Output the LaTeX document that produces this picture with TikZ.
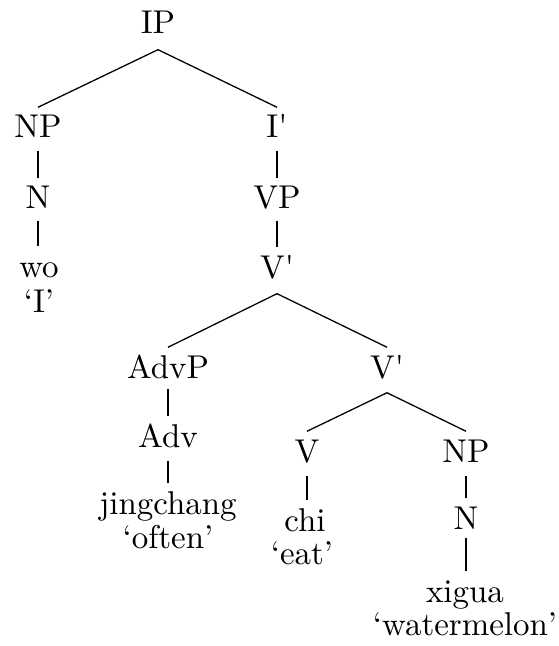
\documentclass[tikz,border=0pt]{standalone}
\begin{document}
\begin{tikzpicture}[x=0.3125pt,y=-0.3125pt,
  cat/.style={anchor=base, inner sep=0pt, text height=9.4pt, text depth=3.75pt, font=\fontsize{10.3}{12}\selectfont},
  gloss/.style={anchor=base, inner sep=0pt, font=\fontsize{10.3}{12}\selectfont},
  edge/.style={line width=0.4pt}]
\useasboundingbox (0,0) rectangle (559,646);
% nodes
\node[cat, text depth=4.7pt] (IP) at (158,34) {IP};
\node[cat] (NP) at (38,138) {NP};
\node[cat] (Ib) at (277,138) {I\textquotesingle};
\node[cat, text depth=3.45pt] (N) at (38,209) {N};
\node[cat, text depth=3.45pt] (VP) at (277,209) {VP};
\node[cat] (wo) at (39,277) {wo};
\node[gloss] (woG) at (39,312) {‘I’};
\node[cat, text depth=4.7pt] (Vb) at (277,278) {V\textquotesingle};
\node[cat, text depth=3.1pt] (AdvP) at (168,378) {AdvP};
\node[cat, text depth=4.4pt] (Vb2) at (387,378) {V\textquotesingle};
\node[cat, text depth=4.1pt] (Adv) at (168,447) {Adv};
\node[cat] (jc) at (168,514) {jingchang};
\node[gloss] (jcG) at (168,548) {‘often’};
\node[cat, text depth=4.1pt] (V) at (307,462) {V};
\node[cat, text depth=4.1pt] (NP2) at (466,462) {NP};
\node[cat] (chi) at (305,531) {chi};
\node[gloss] (chiG) at (302,564) {‘eat’};
\node[cat, text depth=2.5pt] (N2) at (466,529) {N};
\node[cat] (xg) at (465,602) {xigua};
\node[gloss] (xgG) at (465,635) {‘watermelon’};
% edges
\draw[edge] (IP.south) -- (NP.north);
\draw[edge] (IP.south) -- (Ib.north);
\draw[edge] (NP.south) -- (NP.south |- N.north);
\draw[edge] (N.south) -- (N.south |- wo.north);
\draw[edge] (Ib.south) -- (Ib.south |- VP.north);
\draw[edge] (VP.south) -- (VP.south |- Vb.north);
\draw[edge] (Vb.south) -- (AdvP.north);
\draw[edge] (Vb.south) -- (Vb2.north);
\draw[edge] (AdvP.south) -- (AdvP.south |- Adv.north);
\draw[edge] (Adv.south) -- (Adv.south |- jc.north);
\draw[edge] (Vb2.south) -- (V.north);
\draw[edge] (Vb2.south) -- (NP2.north);
\draw[edge] (V.south) -- (V.south |- chi.north);
\draw[edge] (NP2.south) -- (NP2.south |- N2.north);
\draw[edge] (N2.south) -- (N2.south |- xg.north);
\end{tikzpicture}
\end{document}
